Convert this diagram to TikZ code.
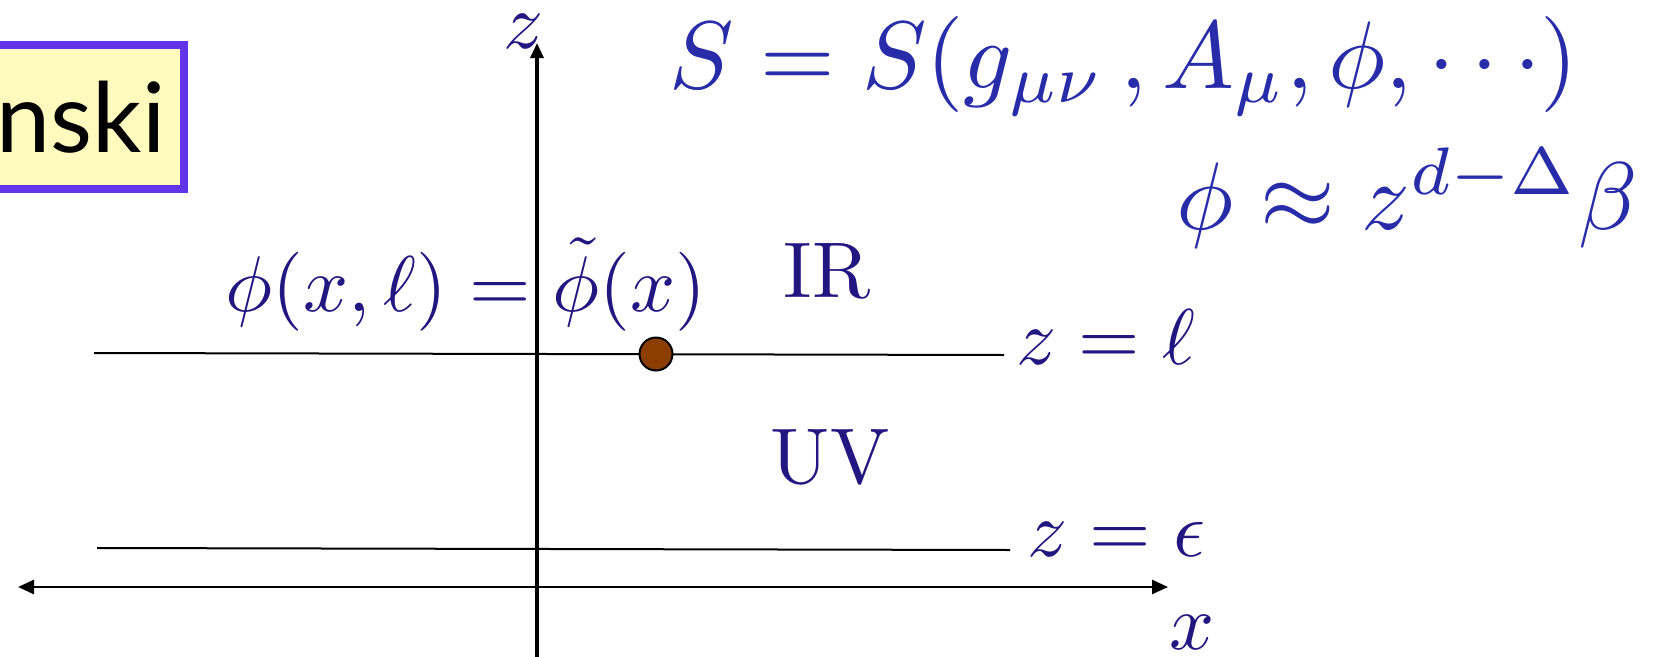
\documentclass[tikz,border=0pt]{standalone}
\usepackage{fontspec}
\newfontfamily\boxfont{Lato}
\usetikzlibrary{arrows.meta, positioning}

\definecolor{labelblue}{RGB}{34,22,128}
\definecolor{formblue}{RGB}{40,44,168}
\definecolor{framepurple}{RGB}{98,52,234}
\definecolor{notefill}{RGB}{255,250,190}
\definecolor{pointbrown}{RGB}{140,62,0}

\begin{document}
\begin{tikzpicture}[x=1pt, y=-1pt,
        lab/.style={inner sep=0pt, text=labelblue, font=\fontsize{10}{12}\selectfont, scale=7.9},
        eqn/.style={inner sep=0pt, text=formblue, font=\fontsize{10}{12}\selectfont, scale=9.6},
        slice/.style={line width=2pt},
        axis/.style={line width=2.6pt},
        tag/.style={draw=framepurple, line width=8pt, fill=notefill, font=\boxfont\fontsize{97}{110}\selectfont,
            text width=400pt, align=right, inner xsep=18pt, minimum height=144pt, anchor=east},
        point/.style={circle, draw, fill=pointbrown, line width=2pt, minimum size=33pt, inner sep=0pt}
    ]
        \useasboundingbox (0,0) rectangle (1667,656);
        \clip (0,0) rectangle (1667,656);

        % name tag, cut off at the left
        \node[tag] (name) at (187.5,117) {nski};

        % slices
        \coordinate (ellL) at (94,353);
        \coordinate (ellR) at (1004,355);
        \coordinate (epsL) at (97,548);
        \coordinate (epsR) at (1010,550);
        \draw[slice] (ellL) -- (ellR);
        \draw[slice] (epsL) -- (epsR);

        % axes
        \coordinate (zbot) at (537,670);
        \coordinate (ztop) at (537,43);
        \coordinate (xleft) at (18,587);
        \coordinate (xright) at (1168,587);
        \draw[axis, line width=3.2pt, -{Triangle[length=15pt, width=13pt]}] (zbot) -- (ztop);
        \draw[axis, {Triangle[length=16pt, width=14pt]}-{Triangle[length=16pt, width=14pt]}] (xleft) -- (xright);

        \node[point] (bulk) at (656,354) {};

        % labels
        \node[lab, anchor=base] (zname) at (524,48) {$z$};
        \node[lab, anchor=base] (xname) at (1192,649) {$x$};
        \node[lab, anchor=base] (ir) at (827,297) {IR};
        \node[lab, anchor=base] (uv) at (830,483) {UV};
        \node[lab, anchor=base west] (ellname) at (1015,364) {$z=\ell$};
        \node[lab, anchor=base west] (epsname) at (1026,556) {$z=\epsilon$};
        \node[lab, anchor=base] (bc) at (466,311) {$\phi(x,\ell)=\tilde{\phi}(x)$};

        \node[eqn, anchor=base] (action) at (1124,88) {$S=S(g_{\mu\nu}\,,A_\mu,\phi,\cdots)$};
        \node[eqn, anchor=base] (falloff) at (1407,229) {$\phi\approx z^{d-\Delta}\beta$};
    \end{tikzpicture}
\end{document}
